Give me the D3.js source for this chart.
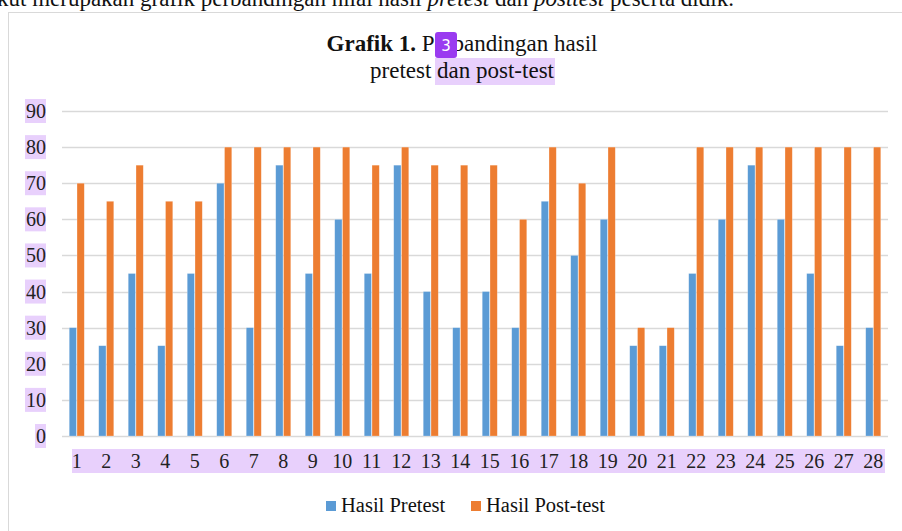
<!DOCTYPE html>
<html>
<head>
<meta charset="utf-8">
<script src="https://cdn.jsdelivr.net/npm/d3@7"></script>
<style>
  body { margin: 0; background: #fff; }
  svg { display: block; font-family: "Liberation Serif", "Times New Roman", serif; }
</style>
</head>
<body>
<div class="chart"></div>
<script>
const categories = d3.range(1, 29).map(String);
const seriesNames = ["Hasil Pretest", "Hasil Post-test"];
const pretest = [30, 25, 45, 25, 45, 70, 30, 75, 45, 60, 45, 75, 40, 30, 40, 30, 65, 50, 60, 25, 25, 45, 60, 75, 60, 45, 25, 30];
const posttest = [70, 65, 75, 65, 65, 80, 80, 80, 80, 80, 75, 80, 75, 75, 75, 60, 80, 70, 80, 30, 30, 80, 80, 80, 80, 80, 80, 80];
const yTicks = [0, 10, 20, 30, 40, 50, 60, 70, 80, 90];
const colors = ["#5b9bd5", "#ed7d31"];

const width = 902, height = 531;
const margin = { left: 62, right: 14, top: 111, bottom: 95 };
const highlight = "#e8d0fc";

const svg = d3.select(".chart").append("svg")
    .attr("width", width)
    .attr("height", height)

// cut-off paragraph line at the top of the page
const para = svg.append("text")
    .attr("x", -3)
    .attr("y", 6)
    .style("font-size", "23px")
    .style("fill", "#111")
para.append("tspan").text("kut merupakan grafik perbandingan nilai hasil ")
para.append("tspan").style("font-style", "italic").text("pretest")
para.append("tspan").text(" dan ")
para.append("tspan").style("font-style", "italic").text("posttest")
para.append("tspan").text(" peserta didik.")

// chart frame
svg.append("rect")
    .attr("x", 8.5)
    .attr("y", 12.5)
    .attr("width", 920)
    .attr("height", 540)
    .attr("fill", "none")
    .attr("stroke", "#d9d9d9")

const x = d3.scaleBand()
    .domain(categories)
    .range([margin.left, width - margin.right])
    .paddingInner(0.49)
    .paddingOuter(0.245)

const xSub = d3.scaleBand()
    .domain([0, 1])
    .range([0, x.bandwidth()])
    .paddingInner(0.07)

const y = d3.scaleLinear()
    .domain([0, 90])
    .range([height - margin.bottom, margin.top])

// gridlines
svg.append("g")
    .selectAll("line")
    .data(yTicks)
    .join("line")
    .attr("x1", margin.left)
    .attr("x2", width - margin.right)
    .attr("y1", d => Math.round(y(d)) + 0.5)
    .attr("y2", d => Math.round(y(d)) + 0.5)
    .attr("stroke", "#d9d9d9")
    .attr("stroke-width", 1.5)

// y labels with highlight
const yLab = svg.append("g")
    .selectAll("g")
    .data(yTicks)
    .join("g")
    .attr("transform", d => `translate(46,${y(d)})`)
yLab.append("rect")
    .attr("x", d => d === 0 ? -11 : -21)
    .attr("y", -12)
    .attr("width", d => d === 0 ? 11 : 21)
    .attr("height", 24)
    .attr("fill", highlight)
yLab.append("text")
    .attr("text-anchor", "end")
    .attr("dy", "0.35em")
    .style("font-size", "20px")
    .style("fill", "#222")
    .text(d => d)

// bars
const series = [pretest, posttest];
const groups = svg.append("g")
    .selectAll("g")
    .data(categories)
    .join("g")
    .attr("transform", d => `translate(${x(d)},0)`)
groups.selectAll("rect")
    .data((d, i) => series.map((s, k) => ({ k, v: s[i] })))
    .join("rect")
    .attr("x", d => xSub(d.k))
    .attr("width", xSub.bandwidth())
    .attr("y", d => y(d.v))
    .attr("height", d => y(0) - y(d.v))
    .attr("fill", d => colors[d.k])
    .attr("stroke", "#fff")
    .attr("stroke-opacity", 0.4)
    .attr("stroke-width", 0.6)

// x labels with highlight band
svg.append("rect")
    .attr("x", 72)
    .attr("y", 449)
    .attr("width", 813)
    .attr("height", 24)
    .attr("fill", highlight)
svg.append("g")
    .selectAll("text")
    .data(categories)
    .join("text")
    .attr("x", d => x(d) + x.bandwidth() / 2)
    .attr("y", 468)
    .attr("text-anchor", "middle")
    .style("font-size", "20px")
    .style("fill", "#222")
    .text(d => d)

// title
svg.append("rect")
    .attr("x", 435)
    .attr("y", 58)
    .attr("width", 120)
    .attr("height", 27)
    .attr("fill", highlight)
const t1 = svg.append("text")
    .attr("x", 462)
    .attr("y", 51)
    .attr("text-anchor", "middle")
    .style("font-size", "23px")
    .style("fill", "#111")
t1.append("tspan").style("font-weight", "bold").text("Grafik 1.")
t1.append("tspan").text(" Perbandingan hasil")
svg.append("text")
    .attr("x", 462)
    .attr("y", 78)
    .attr("text-anchor", "middle")
    .style("font-size", "23px")
    .style("fill", "#111")
    .text("pretest dan post-test")

// badge
svg.append("rect")
    .attr("x", 435)
    .attr("y", 32)
    .attr("width", 22)
    .attr("height", 26)
    .attr("rx", 3)
    .attr("fill", "#9a3bf0")
svg.append("text")
    .attr("x", 446)
    .attr("y", 51)
    .attr("text-anchor", "middle")
    .style("font-family", "DejaVu Sans, sans-serif")
    .style("font-size", "15px")
    .style("fill", "#fff")
    .text("3")

// legend
const legendX = [326, 471];
const legend = svg.append("g")
    .selectAll("g")
    .data(seriesNames)
    .join("g")
    .attr("transform", (d, i) => `translate(${legendX[i]},501)`)
legend.append("rect")
    .attr("width", 10)
    .attr("height", 10)
    .attr("fill", (d, i) => colors[i])
legend.append("text")
    .attr("x", 15)
    .attr("y", 11)
    .style("font-size", "20.5px")
    .style("fill", "#111")
    .text(d => d)
</script>
</body>
</html>
